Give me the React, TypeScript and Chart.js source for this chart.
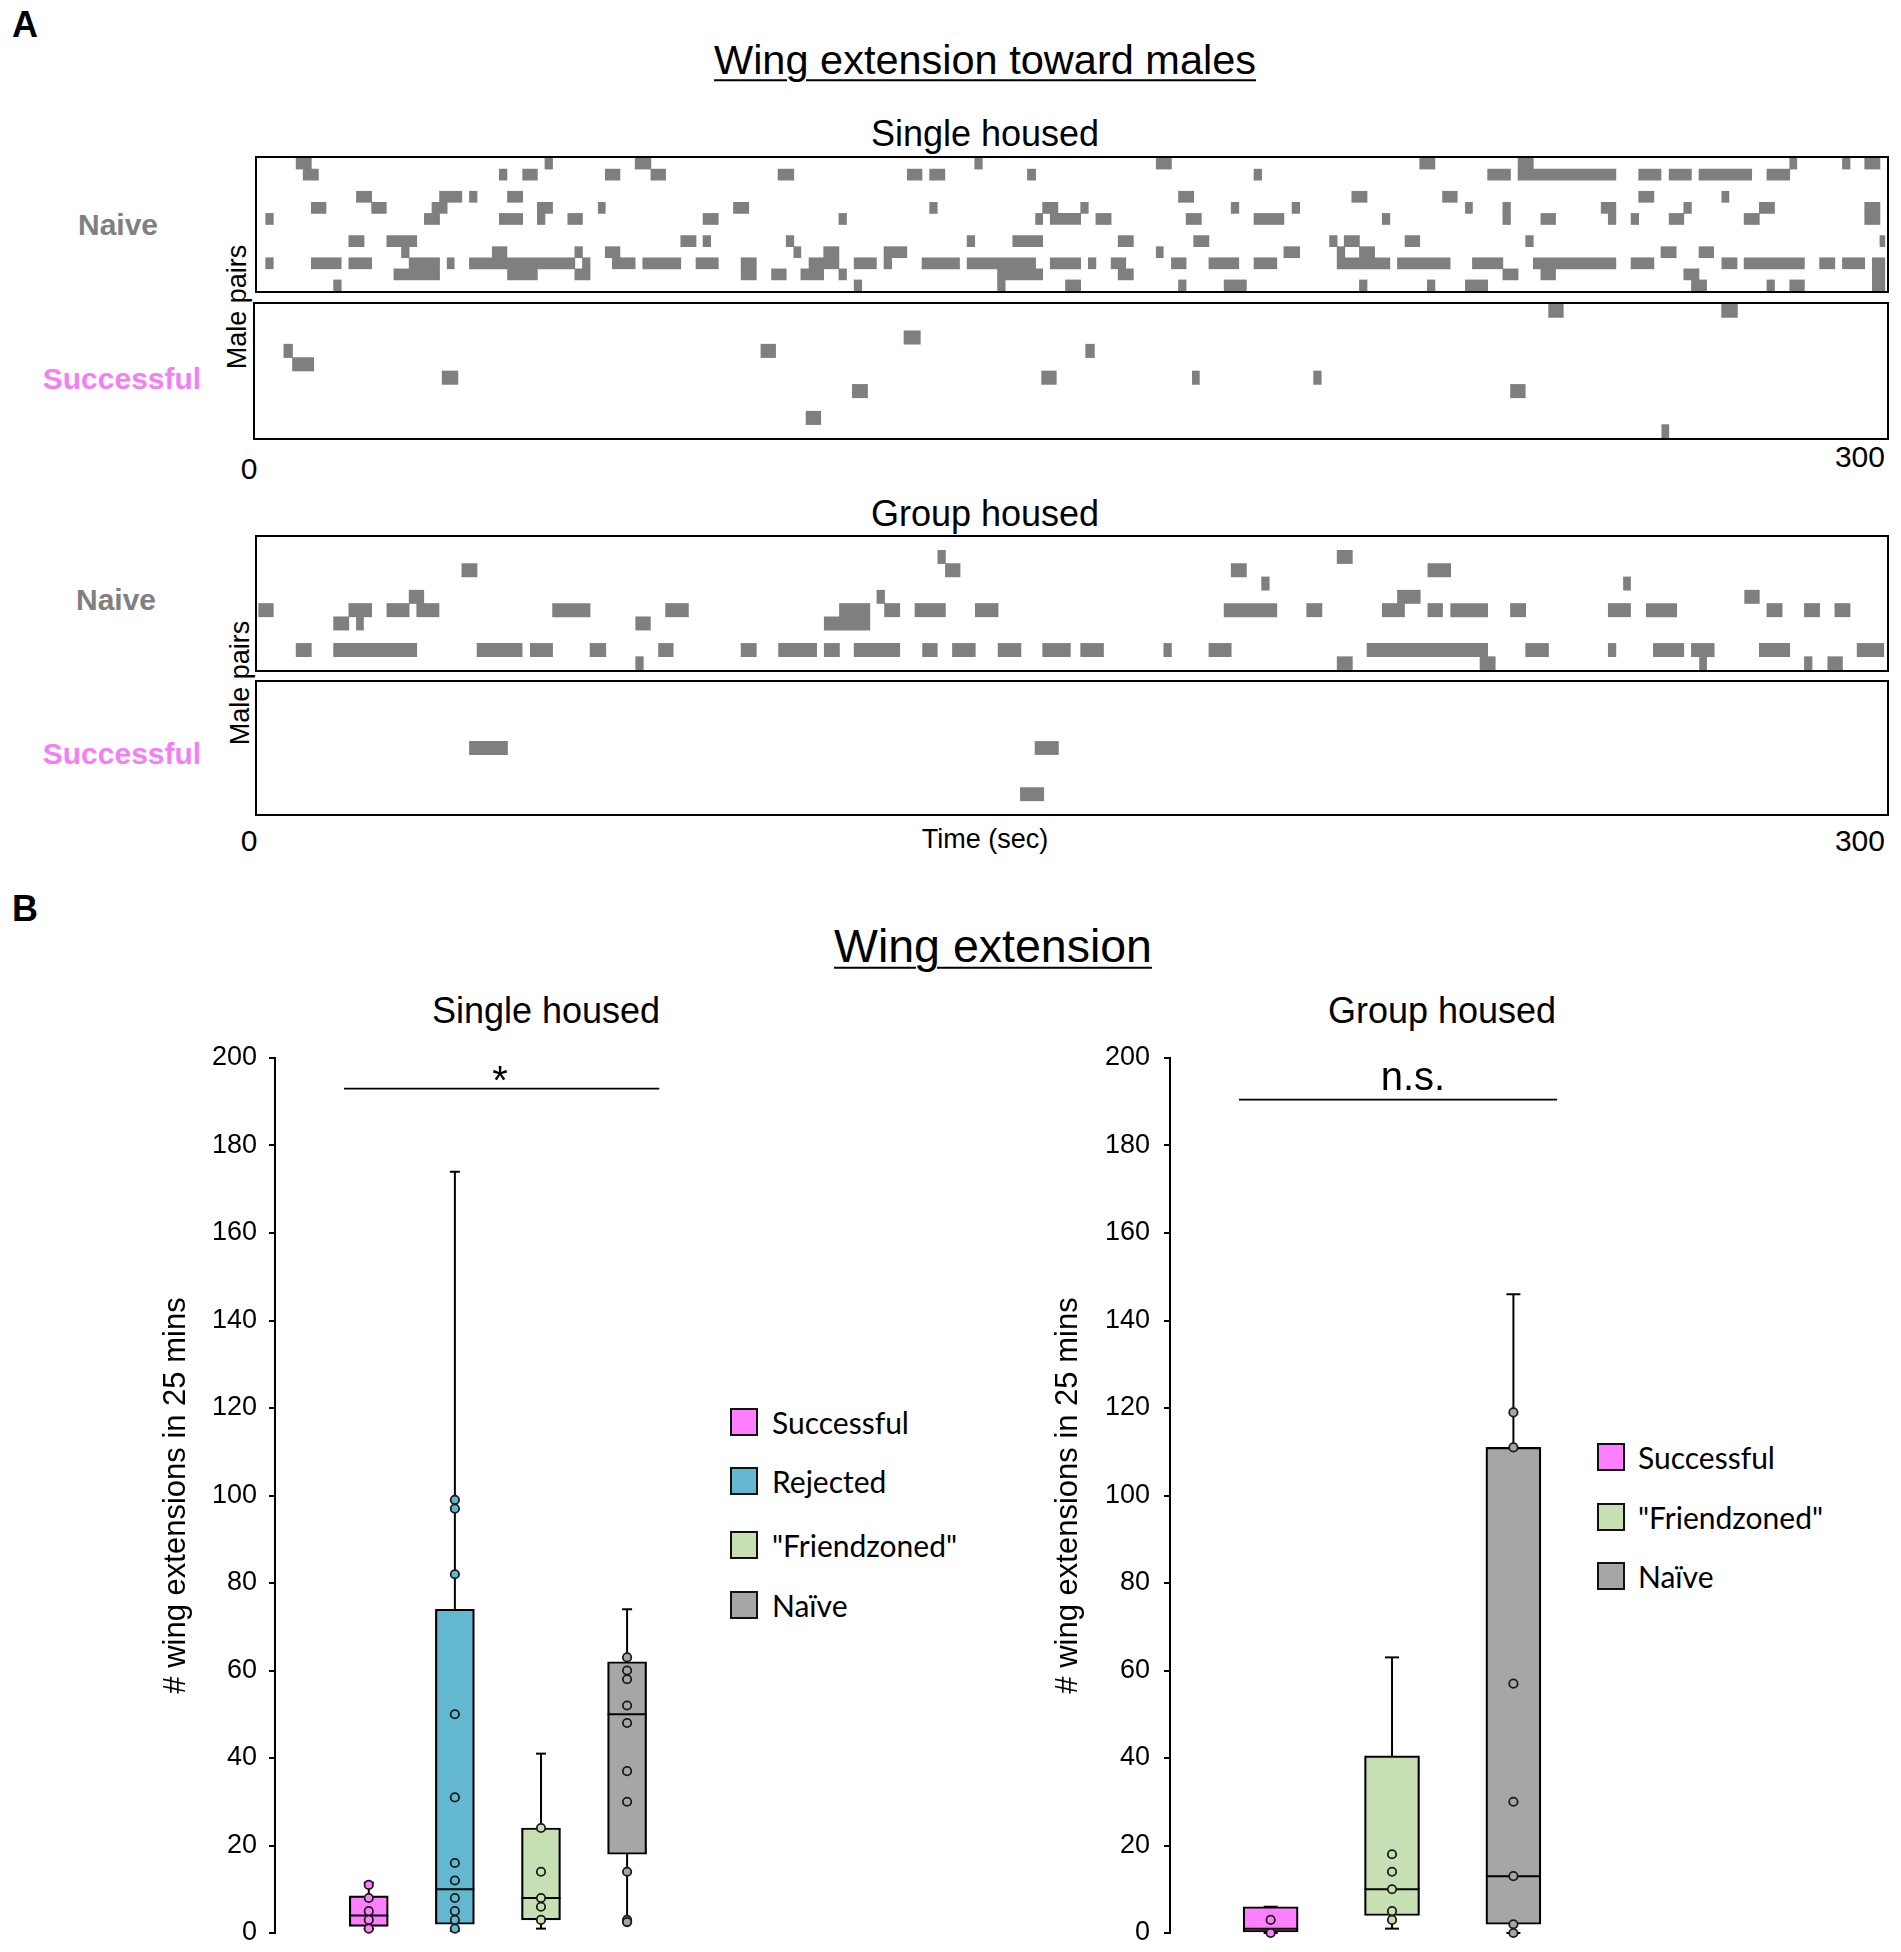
import React, { useEffect, useRef } from 'react';
import { Chart, registerables } from 'chart.js';

Chart.register(...registerables);

const FONT = '"Liberation Sans", Arial, Helvetica, sans-serif';
const LEGEND_FONT = 'Lato, "Open Sans", sans-serif';

// ---------- Panel A: raster data, each event = [row, startSec, endSec] ----------
const timeTicks = ['0', '300'];

const singleNaiveRows = 12;
const singleNaiveEvents: [number, number, number][] = [
  [0, 7.2, 10.0], [0, 53.0, 54.4], [0, 69.6, 72.5], [0, 132.1, 133.5], [0, 165.5, 168.3], [0, 214.0, 216.8], [0, 232.1, 234.9], [0, 282.1, 283.4], [0, 291.8, 293.2], [0, 295.9, 298.7],
  [1, 8.5, 11.3], [1, 44.6, 46.0], [1, 48.9, 51.6], [1, 64.1, 66.8], [1, 72.5, 75.2], [1, 95.9, 98.8], [1, 119.7, 122.4], [1, 123.8, 126.6], [1, 141.8, 143.3], [1, 183.5, 184.9], [1, 226.5, 230.7], [1, 232.1, 250.1], [1, 254.3, 258.4], [1, 259.9, 264.0], [1, 265.4, 275.1], [1, 277.9, 282.1],
  [3, 18.3, 21.1], [3, 33.6, 37.7], [3, 39.1, 40.5], [3, 46.1, 48.9], [3, 169.6, 172.4], [3, 201.5, 204.3], [3, 218.2, 220.9], [3, 254.3, 257.1], [3, 269.6, 270.9],
  [4, 10.0, 12.7], [4, 21.1, 23.8], [4, 32.2, 35.0], [4, 51.6, 54.4], [4, 62.8, 64.1], [4, 87.7, 90.5], [4, 123.8, 125.2], [4, 144.6, 147.4], [4, 151.6, 153.0], [4, 179.3, 180.7], [4, 190.5, 191.9], [4, 222.4, 223.7], [4, 229.3, 230.7], [4, 247.4, 250.1], [4, 262.6, 264.0], [4, 276.5, 279.3], [4, 295.9, 298.7],
  [5, 1.6, 3.0], [5, 30.8, 33.6], [5, 44.6, 48.9], [5, 51.6, 53.0], [5, 57.2, 59.9], [5, 82.1, 84.9], [5, 107.1, 108.5], [5, 143.3, 144.6], [5, 146.0, 151.6], [5, 154.4, 157.2], [5, 171.0, 173.8], [5, 183.5, 189.0], [5, 207.1, 208.5], [5, 229.3, 230.7], [5, 236.3, 239.0], [5, 248.7, 250.1], [5, 252.9, 254.3], [5, 259.9, 262.6], [5, 273.7, 276.5], [5, 295.9, 298.7],
  [7, 16.9, 19.7], [7, 23.9, 29.4], [7, 78.0, 80.8], [7, 82.1, 83.5], [7, 97.4, 98.8], [7, 130.7, 132.1], [7, 139.1, 144.6], [7, 158.5, 161.3], [7, 172.4, 175.2], [7, 197.4, 198.8], [7, 200.1, 202.9], [7, 211.3, 214.0], [7, 233.5, 234.9], [7, 298.7, 299.6],
  [8, 26.6, 28.0], [8, 43.3, 46.0], [8, 58.5, 59.9], [8, 64.1, 66.8], [8, 98.8, 100.1], [8, 104.3, 107.1], [8, 115.4, 119.6], [8, 165.5, 166.8], [8, 189.0, 191.9], [8, 198.8, 200.2], [8, 202.9, 205.7], [8, 258.4, 261.2], [8, 265.4, 268.1],
  [9, 1.6, 3.0], [9, 10.0, 15.5], [9, 16.9, 21.1], [9, 28.0, 33.6], [9, 35.0, 36.3], [9, 39.1, 58.5], [9, 59.9, 61.3], [9, 65.4, 69.6], [9, 71.0, 78.0], [9, 80.8, 84.9], [9, 89.1, 91.9], [9, 101.6, 107.1], [9, 109.9, 114.0], [9, 115.4, 116.8], [9, 122.4, 129.3], [9, 130.7, 143.3], [9, 146.0, 151.6], [9, 153.0, 154.4], [9, 157.2, 159.9], [9, 168.3, 171.0], [9, 175.2, 180.7], [9, 183.5, 187.7], [9, 198.8, 208.5], [9, 209.9, 219.6], [9, 223.7, 229.3], [9, 234.9, 250.1], [9, 252.9, 257.1], [9, 269.6, 272.4], [9, 273.7, 284.8], [9, 287.6, 290.4], [9, 291.8, 295.9], [9, 297.3, 299.6],
  [10, 25.2, 33.6], [10, 46.1, 51.6], [10, 58.5, 61.3], [10, 89.1, 91.9], [10, 94.7, 97.4], [10, 100.1, 104.3], [10, 107.1, 108.5], [10, 136.3, 144.6], [10, 158.5, 161.3], [10, 229.3, 232.1], [10, 236.3, 239.0], [10, 262.6, 265.4], [10, 297.3, 299.6],
  [11, 14.1, 15.5], [11, 109.9, 111.3], [11, 136.3, 137.7], [11, 148.8, 151.6], [11, 169.6, 171.0], [11, 178.0, 182.1], [11, 202.9, 204.3], [11, 215.4, 216.8], [11, 222.4, 226.5], [11, 264.0, 266.8], [11, 277.9, 279.3], [11, 282.1, 284.8], [11, 297.3, 299.6],
];

const singleSuccessRows = 10;
const singleSuccessEvents: [number, number, number][] = [
  [0, 237.8, 240.5], [0, 269.6, 272.5],
  [2, 119.3, 122.3],
  [3, 5.3, 6.9], [3, 93.0, 95.7], [3, 152.7, 154.3],
  [4, 6.9, 10.8],
  [5, 34.4, 37.3], [5, 144.6, 147.3], [5, 172.3, 173.6], [5, 194.6, 196.0],
  [6, 109.8, 112.6], [6, 230.8, 233.5],
  [8, 101.3, 104.0],
  [9, 258.6, 259.9],
];

const groupNaiveRows = 10;
const groupNaiveEvents: [number, number, number][] = [
  [1, 125.3, 126.7], [1, 198.8, 201.6],
  [2, 37.7, 40.5], [2, 126.7, 129.4], [2, 179.3, 182.1], [2, 215.5, 219.7],
  [3, 184.9, 186.3], [3, 251.5, 252.8],
  [4, 28.0, 30.7], [4, 114.1, 115.5], [4, 209.9, 214.1], [4, 273.8, 276.5],
  [5, 0.3, 3.0], [5, 16.9, 21.1], [5, 23.9, 28.0], [5, 29.4, 33.5], [5, 54.4, 61.3], [5, 75.2, 79.4], [5, 107.2, 112.8], [5, 115.5, 118.3], [5, 121.1, 126.7], [5, 132.2, 136.4], [5, 178.0, 187.7], [5, 193.2, 196.0], [5, 207.1, 211.2], [5, 215.5, 218.2], [5, 219.7, 226.5], [5, 230.7, 233.5], [5, 248.7, 252.8], [5, 255.7, 261.3], [5, 277.9, 280.7], [5, 284.8, 287.6], [5, 290.4, 293.2],
  [6, 14.1, 16.9], [6, 18.3, 19.6], [6, 69.7, 72.4], [6, 104.4, 112.8],
  [8, 7.2, 10.0], [8, 14.1, 29.4], [8, 40.5, 48.8], [8, 50.3, 54.4], [8, 61.3, 64.2], [8, 73.9, 76.6], [8, 89.1, 91.9], [8, 96.0, 103.0], [8, 104.4, 107.2], [8, 109.9, 118.3], [8, 122.5, 125.2], [8, 128.0, 132.2], [8, 136.4, 140.6], [8, 144.6, 149.7], [8, 151.6, 155.8], [8, 166.9, 168.3], [8, 175.2, 179.3], [8, 204.3, 226.5], [8, 233.5, 237.7], [8, 248.7, 250.1], [8, 257.0, 262.6], [8, 264.0, 268.2], [8, 276.5, 282.1], [8, 294.5, 299.4],
  [9, 69.7, 71.1], [9, 198.8, 201.6], [9, 225.1, 227.9], [9, 265.5, 266.8], [9, 284.8, 286.2], [9, 289.1, 291.8],
];

const groupSuccessRows = 10;
const groupSuccessEvents: [number, number, number][] = [
  [4.5, 39.1, 46.1], [4.5, 143.2, 147.5],
  [8, 140.5, 144.8],
];

// ---------- Panel B: box plot data ----------
const singleCats = ['Successful', 'Rejected', '"Friendzoned"', 'Naïve'];
const singleColors = ['#ff80ff', '#63b8cf', '#c6e0b4', '#a6a6a6'];
const singleMin = [1, 0.5, 1, 2.5];
const singleQ1 = [1.5, 2, 3, 18];
const singleMedian = [4, 10, 8, 50];
const singleQ3 = [8.5, 74, 24, 62];
const singleMax = [11.5, 174, 41, 74];
const singlePoints = [
  [11, 8, 5, 3, 1],
  [99, 97, 82, 50, 31, 16, 12, 8, 5, 3, 1],
  [24, 14, 8, 6, 3],
  [63, 60, 58, 52, 48, 37, 30, 14, 3, 2.5],
];
const singleSig = { from: 0.713, to: 4.374, y: 193, label: '*' };

const groupCats = ['Successful', '"Friendzoned"', 'Naïve'];
const groupColors = ['#ff80ff', '#c6e0b4', '#a6a6a6'];
const groupMin = [0, 1, 0];
const groupQ1 = [0, 4, 2];
const groupMedian = [1, 10, 13];
const groupQ3 = [6, 40.5, 111];
const groupMax = [6, 63, 146];
const groupPoints = [
  [3, 0],
  [18, 14, 10, 5, 3],
  [119, 111, 57, 30, 13, 2, 0],
];
const groupSig = { from: 0.739, to: 3.36, y: 190.5, label: 'n.s.' };

const yTickStep = 20;
const yMaxValue = 200;

// ---------- components ----------
type Ev = [number, number, number];

function Raster(props: { events: Ev[]; rows: number; x: number; y: number; w: number; h: number }) {
  const { events, rows, x, y, w, h } = props;
  const ref = useRef<HTMLCanvasElement>(null);
  const cw = w - 4;
  const ch = h - 4;
  useEffect(() => {
    const chart = new Chart(ref.current as HTMLCanvasElement, {
      type: 'bar',
      data: {
        datasets: [
          {
            data: events.map(([r, s, e]) => ({ y: r + 0.5, x: [s, e] })) as any,
            backgroundColor: '#7f7f7f',
            borderWidth: 0,
            barThickness: ch / rows,
          } as any,
        ],
      },
      options: {
        indexAxis: 'y',
        responsive: false,
        animation: false,
        events: [],
        layout: { padding: 0, autoPadding: false },
        scales: {
          x: { type: 'linear', min: 0, max: 300, display: false, offset: false },
          y: { type: 'linear', min: 0, max: rows, reverse: true, display: false, offset: false },
        },
        plugins: { legend: { display: false }, tooltip: { enabled: false } },
      } as any,
    });
    return () => chart.destroy();
  }, []);
  return (
    <div style={{ position: 'absolute', left: x, top: y, width: w, height: h, border: '2px solid #000', boxSizing: 'border-box' }}>
      <canvas ref={ref} width={cw} height={ch} style={{ display: 'block', width: cw, height: ch }} />
    </div>
  );
}

function BoxChart(props: {
  mins: number[]; q1s: number[]; meds: number[]; q3s: number[]; maxs: number[]; points: number[][]; colors: string[];
  sig: { from: number; to: number; y: number };
  left: number; top: number; width: number; height: number; axisWidth: number; xMin: number; xMax: number;
  boxW: number; capR: number; tickPad: number; titlePad: number;
}) {
  const p = props;
  const ref = useRef<HTMLCanvasElement>(null);
  useEffect(() => {
    const idx = p.mins.map((_, i) => i + 1);
    const datasets: any[] = [];
    idx.forEach((xi, i) => {
      datasets.push({
        type: 'line',
        data: [{ x: xi, y: p.mins[i] }, { x: xi, y: p.maxs[i] }],
        borderColor: '#000', borderWidth: 2,
        pointStyle: 'line', pointRadius: p.capR, pointBorderWidth: 2, pointBorderColor: '#000',
        order: 5, clip: false,
      });
    });
    datasets.push({
      type: 'bar',
      data: idx.map((xi, i) => ({ x: xi, y: [p.q1s[i], p.q3s[i]] })),
      backgroundColor: p.colors, borderColor: '#000', borderWidth: 2.2, borderSkipped: false,
      barThickness: p.boxW, order: 4,
    });
    datasets.push({
      type: 'scatter',
      data: idx.map((xi, i) => ({ x: xi, y: p.meds[i] })),
      pointStyle: 'line', pointRadius: p.boxW / 2, pointBorderWidth: 2, pointBorderColor: '#000',
      order: 3, clip: false,
    });
    datasets.push({
      type: 'scatter',
      data: p.points.flatMap((arr, i) => arr.map((v) => ({ x: idx[i], y: v }))),
      pointRadius: 4.2, pointBorderWidth: 1.8, pointBorderColor: '#1a1a1a',
      pointBackgroundColor: p.points.flatMap((arr, i) => arr.map(() => p.colors[i])),
      order: 2, clip: false,
    });
    datasets.push({
      type: 'line',
      data: [{ x: p.sig.from, y: p.sig.y }, { x: p.sig.to, y: p.sig.y }],
      borderColor: '#000', borderWidth: 1.8, pointRadius: 0, order: 1, clip: false,
    });
    const chart = new Chart(ref.current as HTMLCanvasElement, {
      type: 'bar',
      data: { datasets },
      options: {
        responsive: false,
        animation: false,
        events: [],
        layout: { padding: { top: 40, bottom: 19, left: 0, right: 0 }, autoPadding: false },
        scales: {
          x: { type: 'linear', min: p.xMin, max: p.xMax, display: false, offset: false },
          y: {
            type: 'linear', min: 0, max: yMaxValue,
            border: { display: true, color: '#000', width: 2 },
            grid: { display: true, drawOnChartArea: false, drawTicks: true, tickLength: 6, color: '#000', lineWidth: 2 },
            ticks: { stepSize: yTickStep, color: '#000', font: { size: 27, family: FONT }, padding: p.tickPad },
            title: {
              display: true, text: '# wing extensions in 25 mins', color: '#000',
              font: { size: 31, family: FONT }, padding: { top: p.titlePad, bottom: 0 },
            },
            afterFit: (s: any) => { s.width = p.axisWidth; s.paddingTop = 0; s.paddingBottom = 0; },
          },
        },
        plugins: { legend: { display: false }, tooltip: { enabled: false } },
      } as any,
    });
    return () => chart.destroy();
  }, []);
  return (
    <canvas ref={ref} width={p.width} height={p.height}
      style={{ position: 'absolute', left: p.left, top: p.top, width: p.width, height: p.height }} />
  );
}

function T(props: {
  x: number; y: number; size: number; children: React.ReactNode; bold?: boolean; color?: string;
  anchor?: 'center' | 'right' | 'left'; rotate?: boolean; underline?: boolean; font?: string;
}) {
  const { x, y, size, bold, color, anchor = 'center', rotate, underline, font } = props;
  const tx = anchor === 'center' ? '-50%' : anchor === 'right' ? '-100%' : '0';
  return (
    <div style={{
      position: 'absolute', left: x, top: y, fontSize: size, lineHeight: 1, whiteSpace: 'nowrap',
      fontWeight: bold ? 'bold' : 'normal', color: color || '#000', fontFamily: font || FONT,
      transform: `translate(${tx}, -50%)${rotate ? ' rotate(-90deg)' : ''}`,
      transformOrigin: rotate ? '50% 50%' : undefined,
      textDecoration: underline ? 'underline' : 'none', textDecorationThickness: underline ? 2 : undefined,
      textUnderlineOffset: underline ? 5 : undefined,
    }}>{props.children}</div>
  );
}

function Legend(props: { cats: string[]; colors: string[]; sx: number; tx: number; ys: number[] }) {
  return (
    <>
      {props.cats.map((c, i) => (
        <React.Fragment key={c}>
          <div style={{
            position: 'absolute', left: props.sx, top: props.ys[i] - 14, width: 28, height: 28,
            background: props.colors[i], border: '2.5px solid #111', boxSizing: 'border-box',
          }} />
          <T x={props.tx} y={props.ys[i]} size={30} anchor="left" font={LEGEND_FONT}>{c}</T>
        </React.Fragment>
      ))}
    </>
  );
}

export default function App() {
  const naiveColor = '#808080';
  const successColor = '#f47ef4';
  return (
    <div style={{ position: 'absolute', left: 0, top: 0, width: 1901, height: 1952, overflow: 'hidden', background: '#fff', fontFamily: FONT }}>
      {/* Panel A */}
      <T x={25} y={25} size={36} bold>A</T>
      <T x={985} y={60} size={41.5} underline>Wing extension toward males</T>
      <T x={985} y={134} size={36}>Single housed</T>
      <Raster events={singleNaiveEvents} rows={singleNaiveRows} x={255} y={156} w={1634} h={137} />
      <Raster events={singleSuccessEvents} rows={singleSuccessRows} x={253} y={302} w={1636} h={138} />
      <T x={118} y={225} size={30} bold color={naiveColor}>Naive</T>
      <T x={122} y={379} size={30} bold color={successColor}>Successful</T>
      <T x={237} y={307} size={27} rotate>Male pairs</T>
      <T x={249} y={469} size={30}>{timeTicks[0]}</T>
      <T x={1885} y={457} size={30} anchor="right">{timeTicks[1]}</T>

      <T x={985} y={514} size={36}>Group housed</T>
      <Raster events={groupNaiveEvents} rows={groupNaiveRows} x={255} y={535} w={1634} h={137} />
      <Raster events={groupSuccessEvents} rows={groupSuccessRows} x={255} y={680} w={1634} h={136} />
      <T x={116} y={600} size={30} bold color={naiveColor}>Naive</T>
      <T x={122} y={754} size={30} bold color={successColor}>Successful</T>
      <T x={240} y={683} size={27} rotate>Male pairs</T>
      <T x={249} y={841} size={30}>{timeTicks[0]}</T>
      <T x={985} y={839} size={27}>Time (sec)</T>
      <T x={1885} y={841} size={30} anchor="right">{timeTicks[1]}</T>

      {/* Panel B */}
      <T x={25} y={909} size={36} bold>B</T>
      <T x={993} y={946} size={46.5} underline>Wing extension</T>
      <T x={546} y={1011} size={36}>Single housed</T>
      <T x={1442} y={1011} size={36}>Group housed</T>

      <BoxChart mins={singleMin} q1s={singleQ1} meds={singleMedian} q3s={singleQ3} maxs={singleMax}
        points={singlePoints} colors={singleColors} sig={singleSig}
        left={150} top={1018} width={570} height={934} axisWidth={125} xMin={-0.089} xMax={5.079}
        boxW={39} capR={5} tickPad={12} titlePad={8} />
      <BoxChart mins={groupMin} q1s={groupQ1} meds={groupMedian} q3s={groupQ3} maxs={groupMax}
        points={groupPoints} colors={groupColors} sig={groupSig}
        left={1042} top={1018} width={548} height={934} axisWidth={128} xMin={0.171} xMax={3.631}
        boxW={55} capR={7} tickPad={14} titlePad={8} />

      <T x={500} y={1080} size={40}>{singleSig.label}</T>
      <T x={1413} y={1076} size={40}>{groupSig.label}</T>

      <Legend cats={singleCats} colors={singleColors} sx={730} tx={772} ys={[1422, 1481, 1545, 1605]} />
      <Legend cats={groupCats} colors={groupColors} sx={1597} tx={1638} ys={[1457, 1517, 1576]} />
    </div>
  );
}
